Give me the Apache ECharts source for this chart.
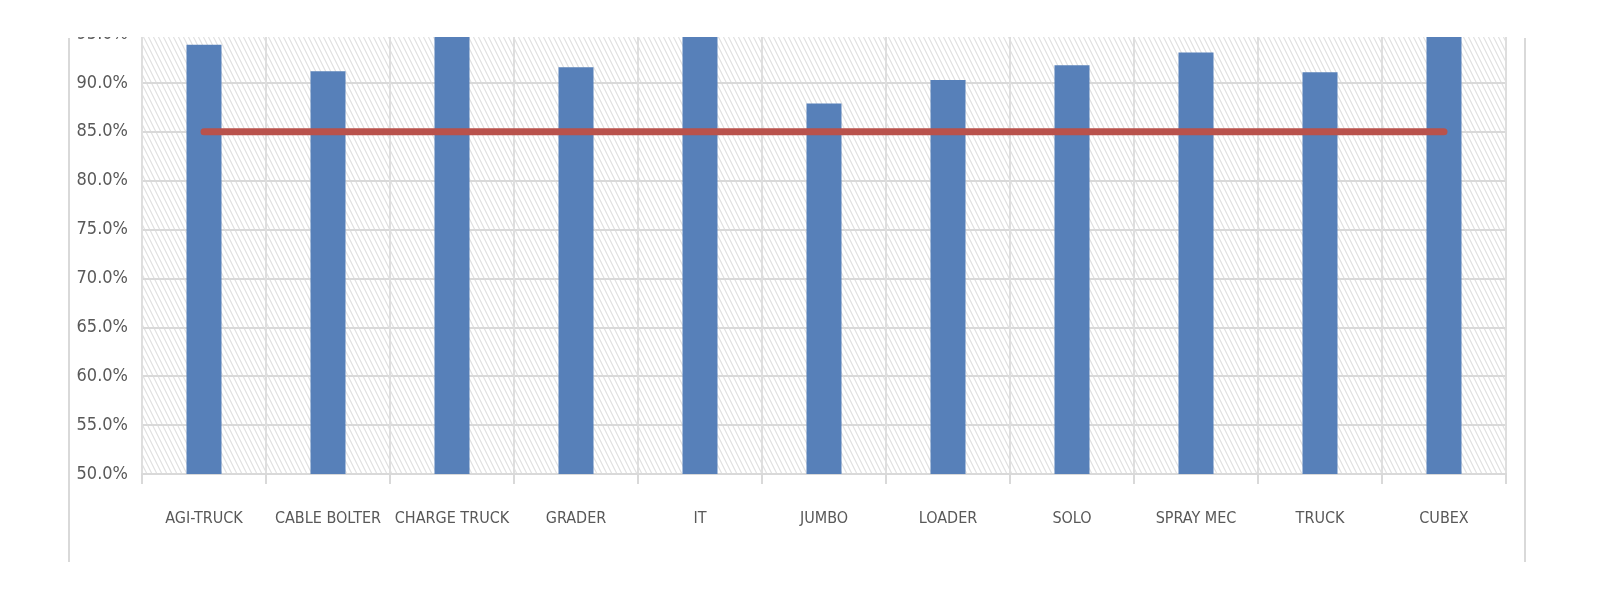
<!DOCTYPE html>
<html>
<head>
<meta charset="utf-8">
<script src="https://cdn.jsdelivr.net/npm/echarts@6/dist/echarts.min.js"></script>
<style>
html,body{margin:0;padding:0;background:#fff;}
#chart{width:1600px;height:600px;}
</style>
</head>
<body>
<div id="chart"></div>
<script>
// ---- data ----
const categories = ['AGI-TRUCK','CABLE BOLTER','CHARGE TRUCK','GRADER','IT','JUMBO','LOADER','SOLO','SPRAY MEC','TRUCK','CUBEX'];
const availability = [93.9, 91.2, 96.5, 91.6, 97.0, 87.9, 90.3, 91.8, 93.1, 91.1, 98.0];
const target = [85, 85, 85, 85, 85, 85, 85, 85, 85, 85, 85];
const yMin = 50, yMax = 95, yStep = 5;

// hatch pattern
const tile = document.createElement('canvas');
tile.width = 5; tile.height = 10;
const g = tile.getContext('2d');
g.fillStyle = '#ffffff';
g.fillRect(0, 0, 5, 10);
g.strokeStyle = '#e0e0e0';
g.lineWidth = 1.2;
g.beginPath();
g.moveTo(-5, -10); g.lineTo(10, 20);
g.moveTo(0, -10); g.lineTo(15, 20);
g.moveTo(-10, -10); g.lineTo(5, 20);
g.stroke();

const font = '"Liberation Sans Narrow", "DejaVu Sans Condensed", "Liberation Sans", sans-serif';
const chart = echarts.init(document.getElementById('chart'));
chart.setOption({
  animation: false,
  grid: {
    left: 142, right: 94, top: 34, bottom: 126,
    show: true,
    backgroundColor: { image: tile, repeat: 'repeat' },
    borderColor: '#d9d9d9', borderWidth: 2
  },
  xAxis: {
    type: 'category',
    data: categories,
    axisLine: { lineStyle: { color: '#d9d9d9', width: 2 } },
    axisTick: { show: true, length: 10, lineStyle: { color: '#d9d9d9', width: 2 } },
    splitLine: { show: true, lineStyle: { color: '#dedede', width: 2 } },
    axisLabel: { color: '#595959', fontSize: 16, fontFamily: font, margin: 37, interval: 0 }
  },
  yAxis: {
    type: 'value',
    min: yMin, max: yMax, interval: yStep,
    axisLine: { show: false },
    axisTick: { show: false },
    splitLine: { lineStyle: { color: '#d9d9d9', width: 2 } },
    axisLabel: { color: '#595959', fontSize: 18, fontFamily: font, margin: 14,
      formatter: v => v.toFixed(1) + '%' }
  },
  series: [
    {
      type: 'bar', data: availability, barWidth: 35,
      itemStyle: { color: '#5780B9' }, z: 2
    },
    {
      type: 'line', data: target, symbol: 'none', z: 3,
      lineStyle: { color: '#B9524C', width: 7, cap: 'round' }
    }
  ],
  graphic: [
    { type: 'rect', z: 100, shape: { x: 0, y: 0, width: 1600, height: 37 }, style: { fill: '#ffffff' } },
    { type: 'line', z: 100, shape: { x1: 69, y1: 38, x2: 69, y2: 562 }, style: { stroke: '#d9d9d9', lineWidth: 2 } },
    { type: 'line', z: 100, shape: { x1: 1525, y1: 38, x2: 1525, y2: 562 }, style: { stroke: '#d9d9d9', lineWidth: 2 } }
  ]
});
</script>
</body>
</html>
